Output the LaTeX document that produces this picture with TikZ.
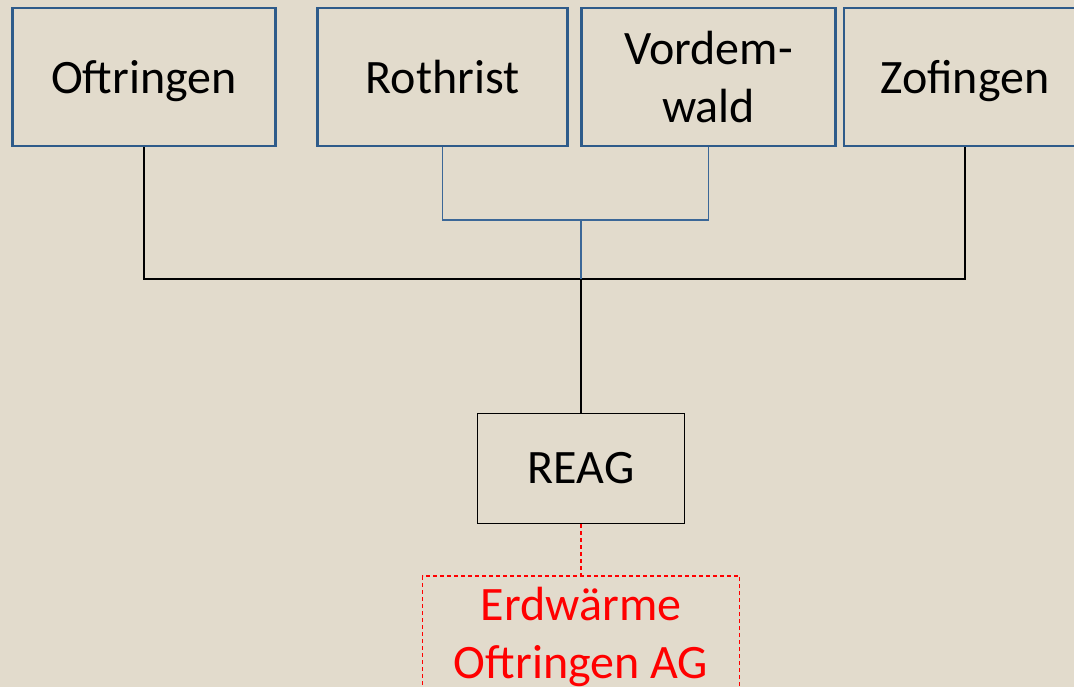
\documentclass[tikz,border=0pt]{standalone}
\usepackage{fontspec}
\setmainfont{Carlito}
\usetikzlibrary{positioning}
\definecolor{paper}{HTML}{E2DBCC}
\definecolor{townblue}{HTML}{2E5B8A}
\definecolor{linkblue}{HTML}{3B6797}
\tikzstyle{org chart}=[
    x=1pt, y=-1pt,
    every node/.style={font=\fontsize{48}{58}\selectfont, align=center, inner sep=0pt},
    town/.style={draw=townblue, line width=2.6pt, minimum height=138pt, text depth=0pt},
    tree/.style={draw=black, line width=1.8pt},
    pair/.style={draw=linkblue, line width=1.2pt},
    sub/.style={draw=red, line width=1.4pt, dash pattern=on 4pt off 3pt},
]

\begin{document}
\begin{tikzpicture}[org chart]
        \clip (0,0) rectangle (1074,687);
        \fill[paper] (0,0) rectangle (1074,687);

        \node[town, minimum width=263pt] (oft) at (144,77) {Oftringen};
        \node[town, minimum width=250pt] (roth) at (442.5,77) {Rothrist};
        \node[town, minimum width=254pt] (vord) at (708.5,77) {Vordem-\\wald};
        \node[town, minimum width=242pt] (zof) at (965,77) {Zofingen};
        \node[tree, draw, minimum width=207pt, minimum height=110pt] (reag) at (581,468.5) {REAG};
        \node[sub, draw, text=red, minimum width=317pt, minimum height=122pt] (erd) at (581,637) {Erdwärme\\Oftringen AG};

        \coordinate (bus) at (581,279);
        \coordinate (pairbus) at (581,220);

        \draw[tree] (oft.south) |- (bus) -| (zof.south);
        \draw[pair] (roth.south) |- (pairbus) -| (vord.south);
        \draw[pair] (pairbus) -- (bus);
        \draw[tree] (bus) -- (reag.north);
        \draw[sub] (reag.south) -- (erd.north);
    \end{tikzpicture}
\end{document}
